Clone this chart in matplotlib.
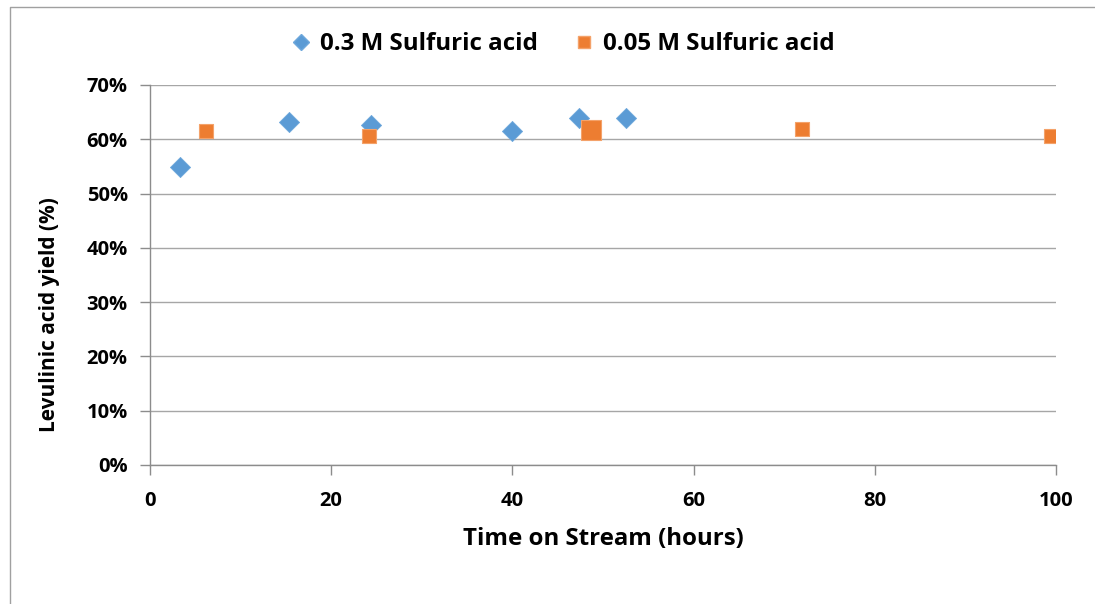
import matplotlib
matplotlib.use("Agg")
import matplotlib.pyplot as plt
from matplotlib.lines import Line2D
from matplotlib.ticker import FuncFormatter

# data
hours_03 = [3.3, 15.3, 24.4, 40.0, 47.3, 52.5]
yield_03 = [0.549, 0.632, 0.627, 0.615, 0.639, 0.640]

hours_005 = [6.2, 24.2, 48.7, 72.0, 99.4]
yield_005 = [0.615, 0.606, 0.617, 0.619, 0.606]

label_03 = "0.3 M Sulfuric acid"
label_005 = "0.05 M Sulfuric acid"

# style only: one orange point is drawn larger in the original
size_005 = [100, 100, 205, 100, 100]

blue = "#5B9BD5"
orange = "#ED7D31"
axis_grey = "#8C8C8C"
grid_grey = "#A6A6A6"

plt.rcParams["font.family"] = ["Open Sans", "DejaVu Sans"]
plt.rcParams["font.weight"] = "bold"

fig = plt.figure(figsize=(10.95, 6.04), dpi=100)
ax = fig.add_axes([150 / 1095, 1 - 465 / 604, 906 / 1095, 380 / 604])

ax.scatter(hours_03, yield_03, marker="D", s=105, color=blue,
           edgecolors="#6FA8DC", linewidths=0.6, zorder=3)
ax.scatter(hours_005, yield_005, marker="s", s=size_005, color=orange,
           edgecolors="#F4A26A", linewidths=0.8, zorder=4)

ax.set_xlim(0, 100)
ax.set_ylim(0, 0.7)
ax.set_xticks(range(0, 101, 20))
ax.set_yticks([i / 10 for i in range(8)])
ax.yaxis.set_major_formatter(FuncFormatter(lambda v, p: "%d%%" % round(v * 100)))

ax.grid(axis="y", color=grid_grey, linewidth=1.0, zorder=0)
ax.set_axisbelow(True)
for side in ["top", "right"]:
    ax.spines[side].set_visible(False)
for side in ["left", "bottom"]:
    ax.spines[side].set_color(axis_grey)
    ax.spines[side].set_linewidth(1.0)

ax.tick_params(axis="both", colors=axis_grey, length=7, width=1.0,
               labelsize=14.5, labelcolor="black")
ax.tick_params(axis="x", pad=12)
ax.tick_params(axis="y", pad=9)
for t in ax.get_xticklabels() + ax.get_yticklabels():
    t.set_fontweight("bold")

ax.set_xlabel("Time on Stream (hours)", fontsize=17.3, fontweight="bold", labelpad=11)
ax.set_ylabel("Levulinic acid yield (%)", fontsize=15, fontweight="bold")
# the y title sits a little below the middle of the plot in the original
ax.yaxis.set_label_coords(-0.099, 0.397)

handles = [
    Line2D([], [], marker="D", linestyle="none", markersize=8.5, color=blue,
           markeredgecolor="#6FA8DC", label=label_03),
    Line2D([], [], marker="s", linestyle="none", markersize=9, color=orange,
           markeredgecolor="#F4A26A", label=label_005),
]
fig.legend(handles=handles, loc="center", bbox_to_anchor=(0.513, 1 - 44 / 604),
           ncol=2, frameon=False, handletextpad=0.3,
           columnspacing=1.4, handlelength=1.0,
           prop={"weight": "bold", "size": 17.4})

# thin outer frame (top and left edges visible in the original)
fig.add_artist(Line2D([10 / 1095, 10 / 1095, 1.0], [0.0, 1 - 7 / 604, 1 - 7 / 604],
                      transform=fig.transFigure, color="#A0A0A0", linewidth=1.0))

fig.savefig("out.png", dpi=100)
